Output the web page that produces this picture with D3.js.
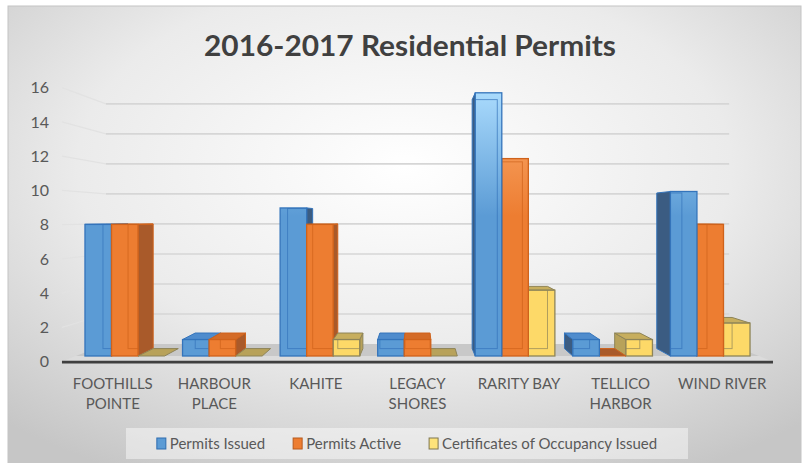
<!DOCTYPE html>
<html>
<head>
<meta charset="utf-8">
<script src="https://cdn.jsdelivr.net/npm/d3@7"></script>
<style>
  body { margin: 0; background: #ffffff; }
  svg { display: block; }
</style>
</head>
<body>
<div id="chart"></div>
<script>
// 2016-2017 residential permits, 3D clustered columns

const categories = ["FOOTHILLS POINTE", "HARBOUR PLACE", "KAHITE", "LEGACY SHORES", "RARITY BAY", "TELLICO HARBOR", "WIND RIVER"];
const seriesNames = ["Permits Issued", "Permits Active", "Certificates of Occupancy Issued"];
const permitsIssued = [8, 1, 9, 1, 16, 1, 10];
const permitsActive = [8, 1, 8, 1, 12, 0, 8];
const certificatesIssued = [0, 0, 1, 0, 4, 1, 2];
const yTicks = [0, 2, 4, 6, 8, 10, 12, 14, 16];
const chartTitle = "2016-2017 Residential Permits";

const seriesValues = [permitsIssued, permitsActive, certificatesIssued];

const width = 807, height = 463;

// colours for each series: front, light top of gradient, side, top, outline
const palette = [
    { front: "#5b9bd5", light: "#a9dafc", side: "#3b5c82", top: "#4f8ccd", stroke: "#3474bb", key: "#5b9bd5", keyStroke: "#2e6db0" },
    { front: "#ed7d31", light: "#fbae72", side: "#a95a2a", top: "#d46b27", stroke: "#cf621b", key: "#ed7d31", keyStroke: "#b85a1c" },
    { front: "#fdd968", light: "#fee794", side: "#b8a25a", top: "#c7ae5e", stroke: "#8e8458", key: "#fde37a", keyStroke: "#7f7650" }
];

// depth planes (perspective factor, 1 = front of the columns)
const kAxis = 1.041, kFront = 1, kBack = 0.946, kWall = 0.9125;
const vpX = 418;

const svg = d3.select("#chart")
    .append("svg")
    .attr("width", width)
    .attr("height", height);

const defs = svg.append("defs");

const bg = defs.append("radialGradient")
    .attr("id", "bg")
    .attr("cx", "50%").attr("cy", "35%").attr("r", "75%");
bg.append("stop").attr("offset", "0%").attr("stop-color", "#ffffff");
bg.append("stop").attr("offset", "55%").attr("stop-color", "#ebebeb");
bg.append("stop").attr("offset", "100%").attr("stop-color", "#c6c6c6");

svg.append("rect")
    .attr("x", 8).attr("y", 6)
    .attr("width", 793).attr("height", 460)
    .attr("fill", "url(#bg)")
    .attr("stroke", "#c4c4c4")
    .attr("stroke-width", 1);

// front plane scales
const x0 = d3.scaleBand()
    .domain(categories)
    .range([76, 759])
    .paddingInner(0.184)
    .paddingOuter(0.092);

const x1 = d3.scaleBand()
    .domain(seriesNames)
    .range([0, x0.bandwidth()]);

const yBar = d3.scaleLinear()
    .domain([0, 16])
    .range([356, 356 - 16 * 16.45]);

const vpY = yBar(8.34); // eye level

function proj(X, Y, k) {
    return [vpX + k * (X - vpX), vpY + k * (Y - vpY)];
}

// axis scale lives on the front edge of the floor
const yAxisScale = d3.scaleLinear()
    .domain([0, 16])
    .range([proj(0, yBar(0), kAxis)[1], proj(0, yBar(16), kAxis)[1]]);

const plotL = x0.range()[0], plotR = x0.range()[1];

//Gridlines on back wall and faint side wall
const grid = svg.append("g").attr("id", "grid");
yTicks.filter(t => t > 0).forEach(t => {
    let a = proj(plotL, yBar(t), kAxis), b = proj(plotL, yBar(t), kWall), c = proj(plotR, yBar(t), kWall);
    grid.append("line")
        .attr("x1", a[0]).attr("y1", a[1]).attr("x2", b[0]).attr("y2", b[1])
        .attr("stroke", "#e2e2e2").attr("stroke-width", 1.2);
    grid.append("line")
        .attr("x1", b[0]).attr("y1", b[1]).attr("x2", c[0]).attr("y2", c[1])
        .attr("stroke", "#d6d6d6").attr("stroke-width", 1.6);
});

//Floor
const floor = svg.append("g").attr("id", "floor");
const poly = pts => pts.map(p => p.join(",")).join(" ");
floor.append("polygon")
    .attr("points", poly([proj(plotL, yBar(0), kWall), proj(plotR, yBar(0), kWall), proj(plotR, yBar(0), kFront), proj(plotL, yBar(0), kFront)]))
    .attr("fill", "#c8c8c8");
floor.append("polygon")
    .attr("points", poly([proj(plotL, yBar(0), kFront), proj(plotR, yBar(0), kFront), proj(plotR, yBar(0), kAxis), proj(plotL, yBar(0), kAxis)]))
    .attr("fill", "#dcdcdc");
let fl = proj(plotL, yBar(0), kAxis), fr = proj(plotR, yBar(0), kAxis);
floor.append("line")
    .attr("x1", fl[0]).attr("y1", fl[1] + 0.5).attr("x2", fr[0]).attr("y2", fr[1] + 0.5)
    .attr("stroke", "#3f3f3f").attr("stroke-width", 2.6);

//Gradients for column fronts
palette.forEach((p, j) => {
    let g = defs.append("linearGradient")
        .attr("id", "grad" + j)
        .attr("gradientUnits", "userSpaceOnUse")
        .attr("x1", 0).attr("y1", yBar(16))
        .attr("x2", 0).attr("y2", yBar(8.5));
    g.append("stop").attr("offset", "0%").attr("stop-color", p.light);
    g.append("stop").attr("offset", "100%").attr("stop-color", p.front);
});

//Build the columns and paint far ones first
let bars = [];
categories.forEach((c, i) => {
    seriesNames.forEach((s, j) => {
        let X0 = x0(c) + x1(s);
        bars.push({ i, j, value: seriesValues[j][i], X0: X0, X1: X0 + x1.bandwidth() });
    });
});
bars.sort((a, b) => Math.abs((b.X0 + b.X1) / 2 - vpX) - Math.abs((a.X0 + a.X1) / 2 - vpX));

const columns = svg.append("g").attr("id", "columns");
bars.forEach((d, n) => {
    let p = palette[d.j];
    let g = columns.append("g");
    let Yt = yBar(d.value), Yb = yBar(0);

    // side face
    let sideX = null;
    if (d.X1 <= vpX) sideX = d.X1;
    else if (d.X0 >= vpX) sideX = d.X0;
    if (sideX !== null && d.value > 0) {
        g.append("polygon")
            .attr("points", poly([proj(sideX, Yt, kFront), proj(sideX, Yt, kBack), proj(sideX, Yb, kBack), proj(sideX, Yb, kFront)]))
            .attr("fill", p.side)
            .attr("stroke", p.stroke).attr("stroke-width", 1).attr("stroke-linejoin", "round");
    }

    // top face, only when the top is below eye level
    if (Yt > vpY) {
        g.append("polygon")
            .attr("points", poly([proj(d.X0, Yt, kFront), proj(d.X1, Yt, kFront), proj(d.X1, Yt, kBack), proj(d.X0, Yt, kBack)]))
            .attr("fill", d.value > 0 ? p.top : p.side)
            .attr("stroke", p.stroke).attr("stroke-width", 1).attr("stroke-linejoin", "round");
    }

    if (d.value > 0) {
        g.append("rect")
            .attr("x", d.X0).attr("y", Yt)
            .attr("width", d.X1 - d.X0).attr("height", Yb - Yt)
            .attr("fill", "url(#grad" + d.j + ")")
            .attr("stroke", p.stroke).attr("stroke-width", 1.3);

        // back edges seen through the front face
        defs.append("clipPath").attr("id", "clip" + n)
            .append("rect")
            .attr("x", d.X0).attr("y", Yt)
            .attr("width", d.X1 - d.X0).attr("height", Yb - Yt);
        let bt = proj(d.X0, Yt, kBack), bb = proj(d.X1, Yb, kBack);
        g.append("rect")
            .attr("clip-path", "url(#clip" + n + ")")
            .attr("x", bt[0]).attr("y", bt[1])
            .attr("width", bb[0] - bt[0]).attr("height", bb[1] - bt[1])
            .attr("fill", "none")
            .attr("stroke", p.stroke).attr("stroke-opacity", 0.7).attr("stroke-width", 1);
    }
});

//Y axis labels
const yAxis = d3.axisLeft(yAxisScale)
    .tickValues(yTicks)
    .tickSize(0)
    .tickPadding(0)
    .tickFormat(d3.format("d"));

svg.append("g")
    .attr("id", "yaxis")
    .attr("transform", "translate(49,0)")
    .call(yAxis)
    .call(g => g.select(".domain").remove())
    .call(g => g.selectAll("text")
        .attr("fill", "#595959")
        .attr("font-family", "Lato, sans-serif")
        .attr("font-size", "16px"));

//Category labels, long names wrap on two lines
const catLabels = svg.append("g").attr("id", "xlabels")
    .attr("font-family", "Lato, sans-serif")
    .attr("font-size", "15px")
    .attr("fill", "#595959")
    .attr("text-anchor", "middle");

categories.forEach(c => {
    let cx = proj(x0(c) + x0.bandwidth() / 2, 0, kAxis)[0];
    let lines = c.length > 10 ? c.split(" ") : [c];
    let t = catLabels.append("text").attr("x", cx).attr("y", 389);
    lines.forEach((l, k) => {
        t.append("tspan").attr("x", cx).attr("dy", k === 0 ? 0 : 20).text(l);
    });
});

//Title
svg.append("text")
    .attr("x", 410)
    .attr("y", 56)
    .attr("text-anchor", "middle")
    .attr("font-family", "Lato, sans-serif")
    .attr("font-weight", "bold")
    .attr("font-size", "29px")
    .attr("fill", "#404040")
    .attr("textLength", 412)
    .attr("lengthAdjust", "spacingAndGlyphs")
    .text(chartTitle);

//Legend
const legendBox = svg.append("rect")
    .attr("y", 428).attr("height", 31)
    .attr("fill", "#ffffff").attr("fill-opacity", 0.45);

const legend = svg.append("g").attr("id", "legend")
    .attr("font-family", "Lato, sans-serif")
    .attr("font-size", "15px")
    .attr("fill", "#595959");

let lx = 0;
seriesNames.forEach((s, j) => {
    let item = legend.append("g");
    item.append("rect")
        .attr("x", 0).attr("y", 438)
        .attr("width", 9).attr("height", 11)
        .attr("fill", palette[j].key)
        .attr("stroke", palette[j].keyStroke).attr("stroke-width", 1);
    let txt = item.append("text").attr("x", 13).attr("y", 449).text(s);
    let w = 13 + txt.node().getComputedTextLength();
    item.attr("transform", `translate(${lx},0)`);
    lx += w + 28;
});
let legendW = lx - 28;
let legendStart = 407 - legendW / 2;
legend.attr("transform", `translate(${legendStart},0)`);
legendBox.attr("x", 126).attr("width", 562);
</script>
</body>
</html>
